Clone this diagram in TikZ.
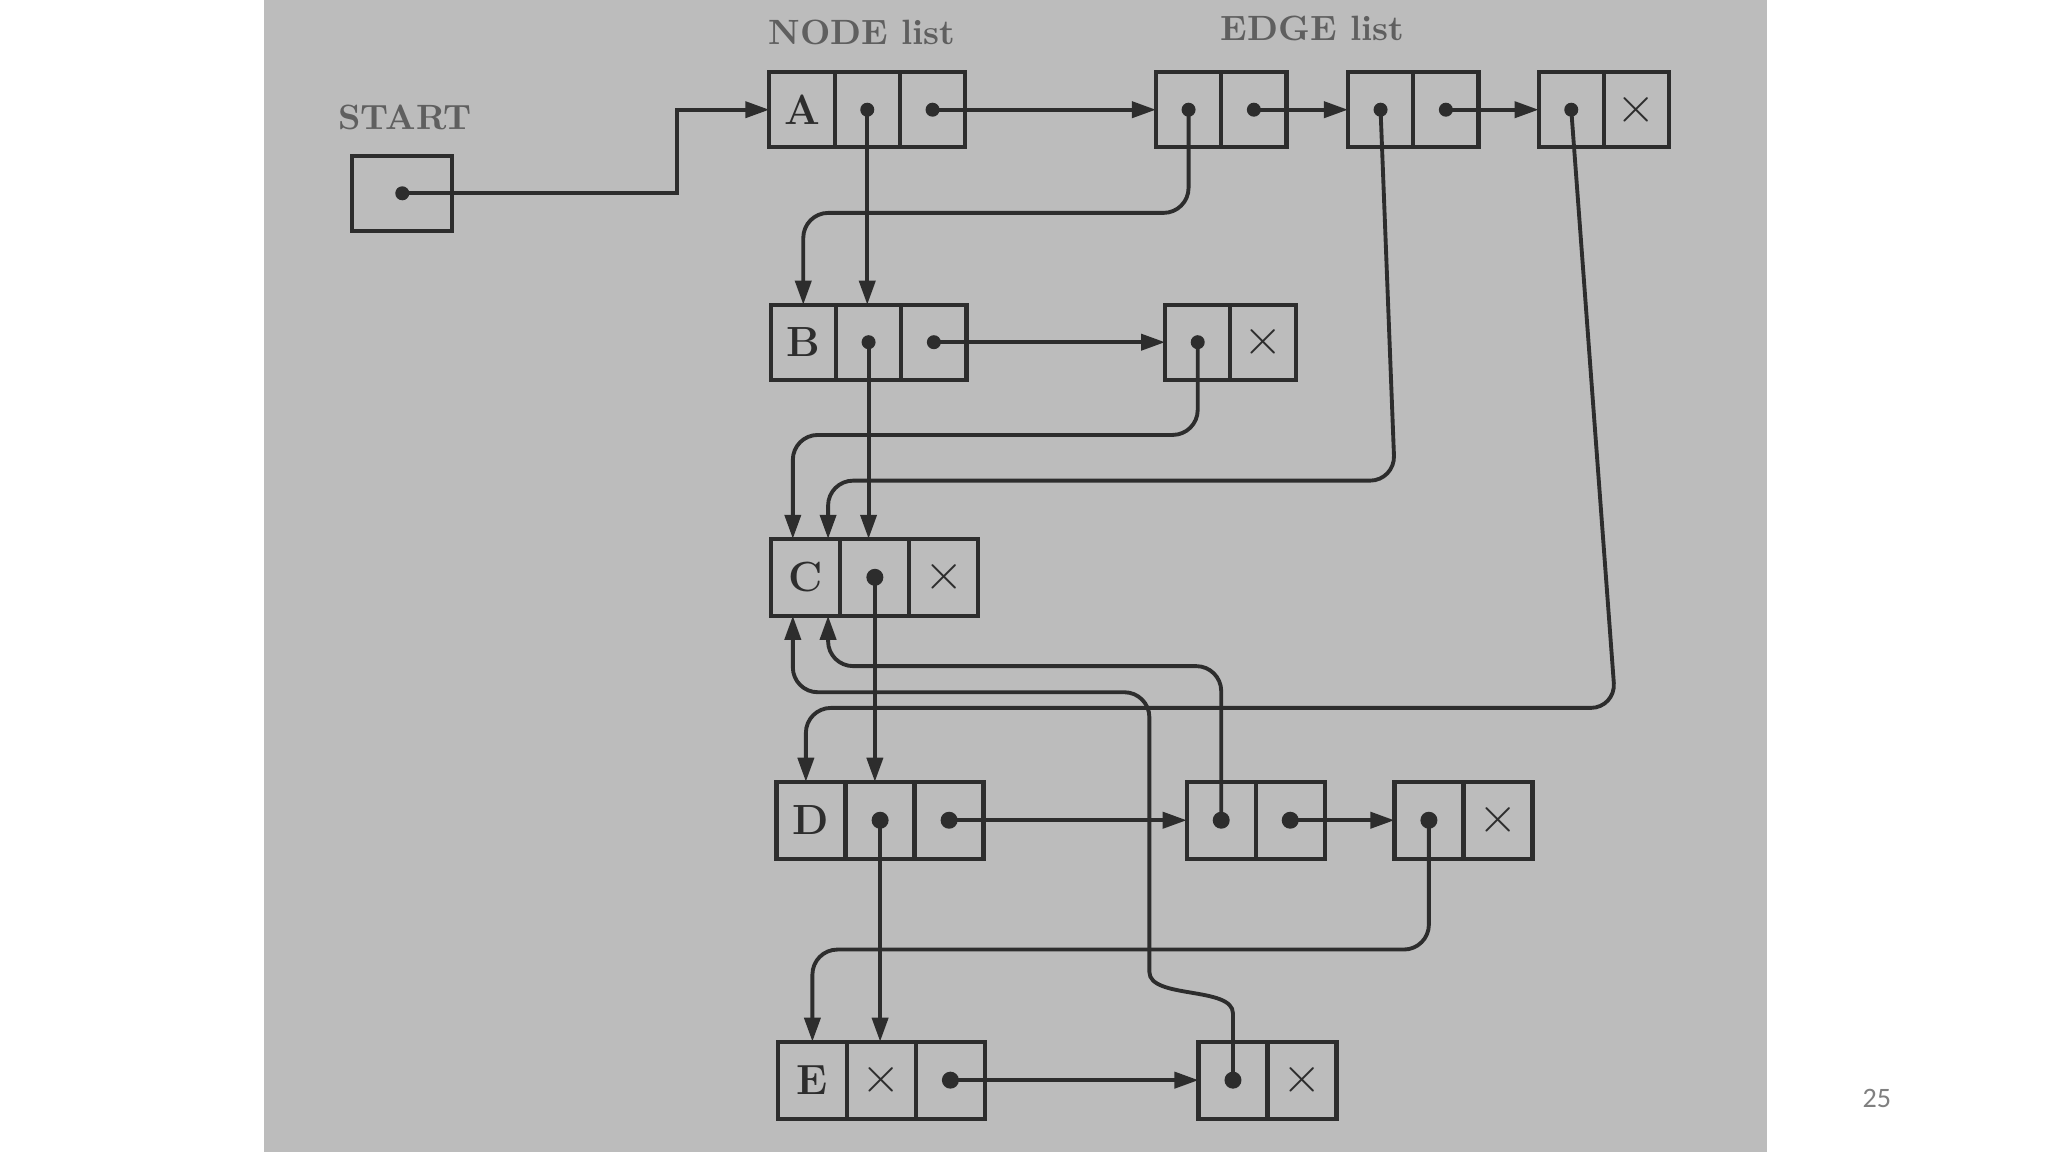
\documentclass[tikz,border=0pt]{standalone}
\usepackage{fontspec}
\newfontfamily\slidefont{Carlito}
\usetikzlibrary{arrows.meta,calc}
\definecolor{photo}{RGB}{188,188,188}
\definecolor{ink}{RGB}{45,45,45}
\definecolor{faded}{RGB}{95,95,95}
\definecolor{pagenum}{RGB}{128,128,128}
\begin{document}
\begin{tikzpicture}[x=0.013061cm,y=-0.013061cm,
  cell/.style={draw=ink, line width=1.2pt, minimum width=0.653cm, minimum height=0.75cm,
    inner sep=0pt, outer sep=0pt, font=\fontsize{12}{14}\selectfont\bfseries, text=ink},
  wide/.style={minimum width=0.69cm, minimum height=0.77cm},
  conn/.style={draw=ink, line width=1.1pt, -{Triangle[length=2.4mm,width=1.6mm]}, rounded corners=0.25cm},
  lbl/.style={text=faded, font=\fontsize{10}{12}\selectfont\bfseries},
  cross/.style={font=\fontsize{14}{14}\selectfont}]
\useasboundingbox (0,0) rectangle (1568,882);
\fill[white] (0,0) rectangle (1568,882);
\fill[photo] (202,0) rectangle (1353,882);

% labels
\node[lbl] (startlbl) at (310,90) {START};
\node[lbl] (nodelbl) at (660,25) {NODE list};
\node[lbl] (edgelbl) at (1005,22) {EDGE list};

% START
\node[cell, minimum width=1.0cm] (S) at (308,148) {};

% top row
\node[cell] (A1) at (614,84) {A};
\node[cell,anchor=west] (A2) at (A1.east) {};
\node[cell,anchor=west] (A3) at (A2.east) {};
\node[cell] (EA1) at (910,84) {};
\node[cell,anchor=west] (EA2) at (EA1.east) {};
\node[cell] (EB1) at (1057,84) {};
\node[cell,anchor=west] (EB2) at (EB1.east) {};
\node[cell] (EC1) at (1203,84) {};
\node[cell,anchor=west,cross] (EC2) at (EC1.east) {$\times$};

% B row
\node[cell] (B1) at (615,262) {B};
\node[cell,anchor=west] (B2) at (B1.east) {};
\node[cell,anchor=west] (B3) at (B2.east) {};
\node[cell] (BE1) at (917,262) {};
\node[cell,anchor=west,cross] (BE2) at (BE1.east) {$\times$};

% C row
\node[cell,wide] (C1) at (617,442) {C};
\node[cell,wide,anchor=west] (C2) at (C1.east) {};
\node[cell,wide,anchor=west,cross] (C3) at (C2.east) {$\times$};

% D row
\node[cell,wide] (D1) at (621,628) {D};
\node[cell,wide,anchor=west] (D2) at (D1.east) {};
\node[cell,wide,anchor=west] (D3) at (D2.east) {};
\node[cell,wide] (DE1) at (935,628) {};
\node[cell,wide,anchor=west] (DE2) at (DE1.east) {};
\node[cell,wide] (DF1) at (1094,628) {};
\node[cell,wide,anchor=west,cross] (DF2) at (DF1.east) {$\times$};

% E row
\node[cell,wide] (E1) at (622,827) {E};
\node[cell,wide,anchor=west,cross] (E2) at (E1.east) {$\times$};
\node[cell,wide,anchor=west] (E3) at (E2.east) {};
\node[cell,wide] (EE1) at (944,827) {};
\node[cell,wide,anchor=west,cross] (EE2) at (EE1.east) {$\times$};

% dots
\foreach \n in {S,A2,A3,EA1,EA2,EB1,EB2,EC1,B2,B3,BE1}
  \fill[ink] (\n.center) circle (0.07cm);
\foreach \n in {C2,D2,D3,DE1,DE2,DF1,E3,EE1}
  \fill[ink] (\n.center) circle (0.085cm);

% horizontal links
\draw[conn, rounded corners=0pt] (S.center) -- (518,148) -- (518,84) -- (A1.west);
\draw[conn] (A3.center) -- (EA1.west);
\draw[conn] (EA2.center) -- (EB1.west);
\draw[conn] (EB2.center) -- (EC1.west);
\draw[conn] (B3.center) -- (BE1.west);
\draw[conn] (D3.center) -- (DE1.west);
\draw[conn] (DE2.center) -- (DF1.west);
\draw[conn] (E3.center) -- (EE1.west);

% vertical links
\draw[conn] (A2.center) -- (A2.center |- B2.north);
\draw[conn] (B2.center) -- (B2.center |- C2.north);
\draw[conn] (C2.center) -- (C2.center |- D2.north);
\draw[conn] (D2.center) -- (D2.center |- E2.north);

% curved links
\draw[conn] (EA1.center) -- (910,163) -- (615,163) -- (B1.north);
\draw[conn] (BE1.center) -- (917,333) -- (607,333) -- ($(C1.north)+(-10,0)$);
\draw[conn] (EB1.center) -- (1068,368) -- (634,368) -- ($(C1.north)+(17,0)$);
\draw[conn] (EC1.center) -- (1237,542) -- (617,542) -- ($(D1.north)+(-4,0)$);
\draw[conn] (DE1.center) -- (935,510) -- (634,510) -- ($(C1.south)+(17,0)$);
\draw[conn] (EE1.center) -- (944,795) .. controls (944,755) and (880,765) .. (880,725)
  -- (880,530) -- (607,530) -- ($(C1.south)+(-10,0)$);
\draw[conn] (DF1.center) -- (1094,727) -- (622,727) -- (E1.north);

% page number
\node[text=pagenum, font=\slidefont\fontsize{8}{9}\selectfont] (pg) at (1437,841) {25};
\end{tikzpicture}
\end{document}
